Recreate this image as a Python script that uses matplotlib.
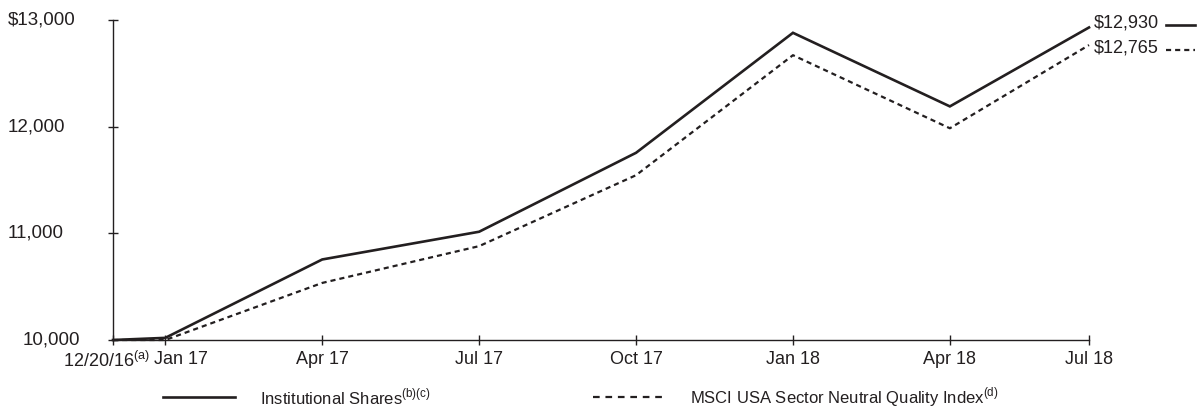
import matplotlib
matplotlib.use("Agg")
import matplotlib.pyplot as plt
from matplotlib.lines import Line2D
from matplotlib.transforms import ScaledTranslation, blended_transform_factory
from matplotlib import font_manager

plt.rcParams['font.family'] = ['Liberation Sans', 'DejaVu Sans']
plt.rcParams['mathtext.fontset'] = 'custom'
plt.rcParams['mathtext.rm'] = 'Liberation Sans'

# Data (x in months relative to Jan 17)
x_months = [-1.0, 0, 3, 6, 9, 12, 15, 17.66]
tick_labels = ["12/20/16$^{\\rm(a)}$", "Jan 17", "Apr 17", "Jul 17", "Oct 17", "Jan 18", "Apr 18", "Jul 18"]
inst_values = [10000, 10020, 10755, 11015, 11755, 12880, 12190, 12930]
index_values = [10000, 10000, 10535, 10880, 11545, 12670, 11985, 12765]
series_names = ["Institutional Shares$^{\\rm(b)(c)}$", "MSCI USA Sector Neutral Quality Index$^{\\rm(d)}$"]
end_labels = ["$12,930", "$12,765"]
y_ticks = [10000, 11000, 12000, 13000]
y_tick_labels = ["10,000", "11,000", "12,000", "$13,000"]

C = "#231f20"
FS = 13
FSY = 13.5
fig = plt.figure(figsize=(11.97, 4.2), dpi=100)
ax = fig.add_axes([113/1197, 1-340/420, (1089-113)/1197, 320/420])

ax.plot(x_months, inst_values, color=C, lw=1.9, solid_joinstyle='miter', clip_on=False)
ax.plot(x_months, index_values, color=C, lw=1.6, dashes=(2.3, 1.8), clip_on=False)

ax.set_xlim(x_months[0], x_months[-1])
ax.set_ylim(10000, 13000)
ax.set_xticks(x_months)
ax.set_xticklabels(tick_labels, fontsize=FS, color=C)
ax.set_yticks(y_ticks)
ax.set_yticklabels([])
for s in ['top', 'right']:
    ax.spines[s].set_visible(False)
for s in ['left', 'bottom']:
    ax.spines[s].set_color(C)
    ax.spines[s].set_linewidth(1.0)
ax.tick_params(axis='both', direction='inout', length=7, width=1.0, color=C)
ax.tick_params(axis='x', pad=4.5)

labels = ax.get_xticklabels()
labels[0].set_transform(labels[0].get_transform() + ScaledTranslation(-7/100, 0, fig.dpi_scale_trans))
labels[1].set_transform(labels[1].get_transform() + ScaledTranslation(16/100, 0, fig.dpi_scale_trans))

def fx(px):
    return px / 1197
def fy(py):
    return 1 - py / 420

# y tick labels: upper ones left aligned, bottom one right aligned (as in the reference)
ytr = blended_transform_factory(fig.transFigure, ax.transData)
for v, lab in zip(y_ticks, y_tick_labels):
    if v == y_ticks[0]:
        ax.text(fx(80), v, lab, fontsize=FSY, color=C, va='center', ha='right', transform=ytr, clip_on=False)
    else:
        ax.text(fx(8), v, lab, fontsize=FSY, color=C, va='center', ha='left', transform=ytr, clip_on=False)

# end labels
fig.text(fx(1094), fy(23), end_labels[0], fontsize=FS, color=C, va='center', ha='left')
fig.text(fx(1094), fy(48), end_labels[1], fontsize=FS, color=C, va='center', ha='left')
fig.add_artist(Line2D([fx(1166), fx(1195)], [fy(25), fy(25)], color=C, lw=1.9))
fig.add_artist(Line2D([fx(1166), fx(1195)], [fy(50), fy(50)], color=C, lw=1.6, dashes=(2.3, 1.8)))

# legend font: narrow if available
try:
    font_manager.findfont('Liberation Sans Narrow', fallback_to_default=False)
    leg_family = ['Liberation Sans Narrow', 'Liberation Sans']
    leg_size = 13.5
except Exception:
    leg_family = ['Liberation Sans']
    leg_size = 12

fig.add_artist(Line2D([fx(163), fx(235)], [fy(397), fy(397)], color=C, lw=1.9))
fig.text(fx(260), fy(397), series_names[0], fontsize=leg_size, family=leg_family, color=C, va='center', ha='left')
fig.add_artist(Line2D([fx(593), fx(663)], [fy(397), fy(397)], color=C, lw=1.6, dashes=(3.0, 2.6)))
fig.text(fx(690), fy(397), series_names[1], fontsize=leg_size, family=leg_family, color=C, va='center', ha='left')

fig.savefig("out.png", dpi=100)
